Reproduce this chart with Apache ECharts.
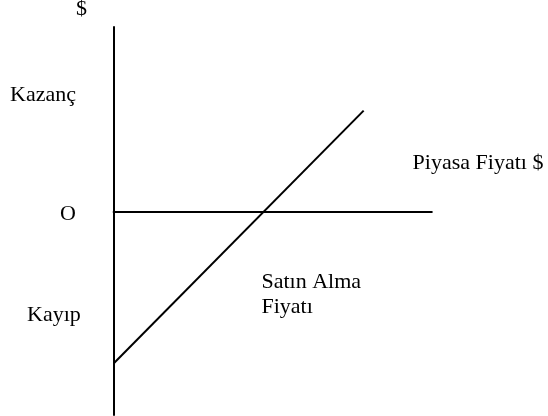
<!DOCTYPE html>
<html>
<head>
<meta charset="utf-8">
<script src="https://cdn.jsdelivr.net/npm/echarts@6/dist/echarts.min.js"></script>
<style>
  html, body { margin: 0; padding: 0; background: #fff; }
  #chart { width: 548px; height: 416px; }
</style>
</head>
<body>
<div id="chart"></div>
<script>
// piyasa fiyatı (x) ve kazanç/kayıp (y)
const marketPrice = [0, 8.33];
const payoff = [-5, 3.34];
const xRange = [0, 10.6];
const yRange = [-6.7, 6.1];

// metinler
const axisUnit = "$";
const gainLabel = "Kazanç";
const lossLabel = "Kayıp";
const originLabel = "O";
const xAxisLabel = "Piyasa Fiyatı $";
const strikeLabel = ["Satın Alma", "Fiyatı"];

const FONT = '22px "Liberation Serif", "Times New Roman", serif';

const txt = (text, x, y, align) => ({
	type: "text",
	x: x,
	y: y,
	silent: true,
	style: {
		text: text,
		font: FONT,
		fill: "#000",
		align: align || "left",
		verticalAlign: "middle",
		textAlign: align || "left",
		textVerticalAlign: "middle",
	},
});

const myChart = echarts.init(document.getElementById("chart"));
const option = {
	animation: false,
	backgroundColor: "#fff",
	grid: { left: 113.6, right: 116.2, top: 27, bottom: 1 },
	xAxis: {
		type: "value",
		min: xRange[0],
		max: xRange[1],
		axisLine: { onZero: true, lineStyle: { color: "#000", width: 2 } },
		axisTick: { show: false },
		axisLabel: { show: false },
		splitLine: { show: false },
	},
	yAxis: {
		type: "value",
		min: yRange[0],
		max: yRange[1],
		axisLine: { show: true, onZero: true, lineStyle: { color: "#000", width: 2 } },
		axisTick: { show: false },
		axisLabel: { show: false },
		splitLine: { show: false },
	},
	series: [
		{
			type: "line",
			data: marketPrice.map((p, i) => [p, payoff[i]]),
			symbol: "none",
			lineStyle: { color: "#000", width: 2 },
		},
	],
	graphic: [
		txt(axisUnit, 81.5, 9, "center"),
		txt(gainLabel, 10, 95),
		txt(xAxisLabel, 412.6, 163),
		txt(originLabel, 68, 214, "center"),
		txt(strikeLabel[0], 261.5, 282),
		txt(strikeLabel[1], 261.5, 307),
		txt(lossLabel, 27, 315),
	],
};
myChart.setOption(option);
</script>
</body>
</html>
